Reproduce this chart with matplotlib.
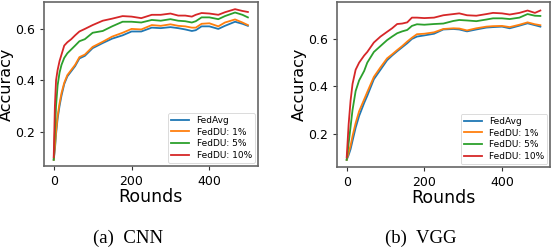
import matplotlib
matplotlib.use('Agg')
import matplotlib.pyplot as plt

# CNN panel, values
cnn_rounds = [0, 3, 6, 10, 15, 20, 27, 35, 45, 55, 66, 80, 100, 126, 150, 177, 200,
              225, 252, 275, 300, 320, 338, 355, 365, 380, 400, 423, 440, 466, 485, 499]
cnn_fedavg = [0.09, 0.13, 0.19, 0.25, 0.30, 0.34, 0.385, 0.415, 0.435, 0.455, 0.485, 0.495,
              0.525, 0.545, 0.562, 0.575, 0.59, 0.59, 0.605, 0.603, 0.607, 0.603, 0.598,
              0.592, 0.595, 0.61, 0.61, 0.60, 0.612, 0.628, 0.62, 0.612]
cnn_du1 = [0.09, 0.14, 0.20, 0.26, 0.31, 0.35, 0.39, 0.42, 0.44, 0.46, 0.49, 0.50,
           0.53, 0.55, 0.57, 0.585, 0.60, 0.598, 0.615, 0.612, 0.618, 0.612, 0.61,
           0.605, 0.605, 0.62, 0.622, 0.61, 0.625, 0.637, 0.625, 0.615]
cnn_du5 = [0.09, 0.20, 0.30, 0.38, 0.43, 0.46, 0.487, 0.505, 0.52, 0.535, 0.552, 0.56,
           0.585, 0.592, 0.61, 0.628, 0.628, 0.625, 0.635, 0.632, 0.638, 0.632, 0.63,
           0.625, 0.63, 0.645, 0.645, 0.638, 0.65, 0.664, 0.655, 0.645]
cnn_du10 = [0.10, 0.30, 0.40, 0.44, 0.475, 0.50, 0.535, 0.548, 0.56, 0.575, 0.59, 0.60,
            0.615, 0.632, 0.64, 0.65, 0.648, 0.642, 0.655, 0.655, 0.66, 0.652, 0.652,
            0.648, 0.655, 0.662, 0.66, 0.655, 0.665, 0.677, 0.67, 0.666]

# VGG panel
vgg_rounds = [0, 5, 10, 15, 23, 32, 45, 53, 70, 87, 104, 117, 130, 143, 156, 168, 181,
              200, 225, 249, 275, 290, 310, 334, 360, 377, 400, 420, 445, 466, 485, 499]
vgg_fedavg = [0.09, 0.11, 0.135, 0.17, 0.225, 0.275, 0.33, 0.36, 0.43, 0.47, 0.51, 0.53,
              0.548, 0.565, 0.582, 0.60, 0.61, 0.615, 0.622, 0.64, 0.642, 0.64, 0.632,
              0.64, 0.648, 0.65, 0.652, 0.645, 0.656, 0.666, 0.658, 0.652]
vgg_du1 = [0.09, 0.12, 0.15, 0.19, 0.245, 0.295, 0.345, 0.376, 0.44, 0.48, 0.518, 0.535,
           0.553, 0.57, 0.589, 0.605, 0.62, 0.622, 0.628, 0.642, 0.645, 0.644, 0.636,
           0.645, 0.652, 0.654, 0.655, 0.65, 0.66, 0.67, 0.662, 0.658]
vgg_du5 = [0.09, 0.16, 0.23, 0.30, 0.38, 0.425, 0.465, 0.50, 0.545, 0.57, 0.595, 0.61,
           0.624, 0.632, 0.638, 0.655, 0.662, 0.66, 0.663, 0.665, 0.676, 0.68, 0.678,
           0.675, 0.682, 0.687, 0.687, 0.684, 0.69, 0.705, 0.698, 0.697]
vgg_du10 = [0.10, 0.24, 0.34, 0.41, 0.47, 0.50, 0.53, 0.545, 0.585, 0.61, 0.63, 0.645,
            0.663, 0.665, 0.67, 0.69, 0.69, 0.688, 0.69, 0.70, 0.705, 0.708, 0.70,
            0.698, 0.705, 0.71, 0.708, 0.703, 0.71, 0.72, 0.71, 0.72]

labels = ['FedAvg', 'FedDU: 1%', 'FedDU: 5%', 'FedDU: 10%']
colors = ['#1f77b4', '#ff7f0e', '#2ca02c', '#d62728']

fig = plt.figure(figsize=(5.52, 2.48), dpi=100)
ax1 = fig.add_axes([0.0797, 0.331, 0.387, 0.661])
ax2 = fig.add_axes([0.6105, 0.327, 0.386, 0.665])

panels = [
    (ax1, cnn_rounds, [cnn_fedavg, cnn_du1, cnn_du5, cnn_du10], (0.066, 0.705), '(a)  CNN', 0.232),
    (ax2, vgg_rounds, [vgg_fedavg, vgg_du1, vgg_du5, vgg_du10], (0.06, 0.756), '(b)  VGG', 0.763),
]

for ax, rounds, series, ylim, caption, cx in panels:
    for vals, lab, col in zip(series, labels, colors):
        ax.plot(rounds, vals, color=col, lw=1.3, label=lab)
    ax.set_xlim(-25, 524)
    ax.set_ylim(*ylim)
    ax.set_xticks([0, 200, 400])
    ax.set_yticks([0.2, 0.4, 0.6])
    ax.tick_params(labelsize=9, length=3, color='#333333')
    ax.set_xlabel('Rounds', fontsize=12.5, labelpad=0)
    ax.set_ylabel('Accuracy', fontsize=11.5, labelpad=1)
    for s in ax.spines.values():
        s.set_color('#666666')
        s.set_linewidth(1.2)
    leg = ax.legend(loc='lower right', fontsize=6.5, handlelength=2.0,
                    borderaxespad=0.3, labelspacing=0.3, borderpad=0.35)
    leg.get_frame().set_linewidth(0.6)
    fig.text(cx, 0.005, caption, ha='center', va='bottom',
             family='Liberation Serif', fontsize=13.5)

fig.savefig('out.png', dpi=100)
